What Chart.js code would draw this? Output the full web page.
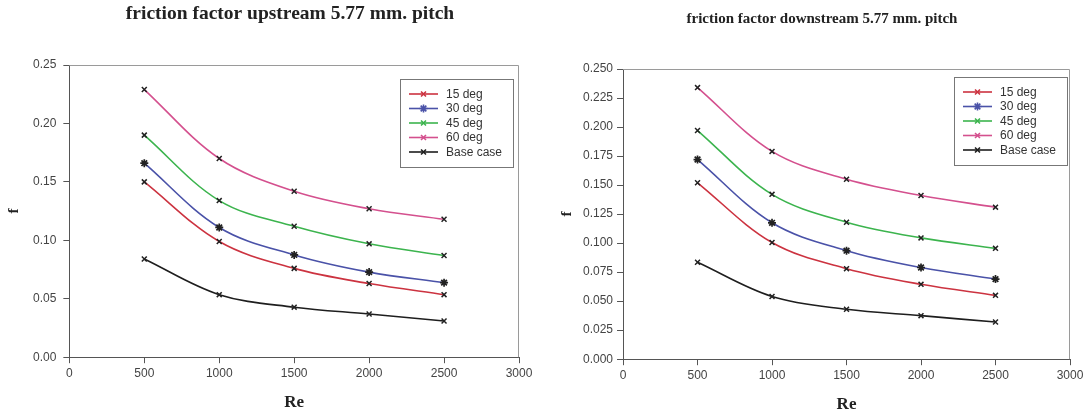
<!DOCTYPE html>
<html>
<head>
<meta charset="utf-8">
<title>friction factor 5.77 mm. pitch</title>
<script src="https://cdn.jsdelivr.net/npm/chart.js@4.4.1/dist/chart.umd.min.js"></script>
<style>
    body { margin: 0; background: #fff; }
    .panel { position: absolute; top: 0; width: 546px; height: 416px; }
    #izq { left: 0; }
    #der { left: 546px; }
</style>
</head>
<body>
<div class="panel" id="izq"><canvas id="chartUp" width="546" height="416"></canvas></div>
<div class="panel" id="der"><canvas id="chartDown" width="546" height="416"></canvas></div>
<script>
// Reynolds number
const re = [500, 1000, 1500, 2000, 2500];
const nombres = ['15 deg', '30 deg', '45 deg', '60 deg', 'Base case'];

// friction factor upstream
const up15 = [0.150, 0.099, 0.076, 0.063, 0.0535];
const up30 = [0.166, 0.111, 0.0875, 0.0728, 0.0638];
const up45 = [0.190, 0.134, 0.112, 0.097, 0.087];
const up60 = [0.229, 0.170, 0.142, 0.127, 0.118];
const upBase = [0.084, 0.0535, 0.0428, 0.037, 0.031];

// friction factor downstream
const down15 = [0.152, 0.1005, 0.078, 0.0645, 0.055];
const down30 = [0.172, 0.1175, 0.0935, 0.079, 0.069];
const down45 = [0.197, 0.142, 0.118, 0.1045, 0.0955];
const down60 = [0.234, 0.179, 0.155, 0.141, 0.131];
const downBase = [0.0835, 0.054, 0.043, 0.0375, 0.032];

const colores = ['#cc3340', '#4a52a8', '#3cb44e', '#d4508e', '#1e1e1e'];
const marcas = ['crossRot', 'star', 'crossRot', 'crossRot', 'crossRot'];

function series(valores) {
    return valores.map((v, i) => ({
        label: nombres[i],
        data: re.map((x, j) => ({ x: x, y: v[j] })),
        borderColor: colores[i],
        backgroundColor: colores[i],
        borderWidth: 1.6,
        pointStyle: marcas[i],
        pointRadius: i === 1 ? 4 : 3.5,
        pointBorderWidth: i === 1 ? 1.7 : 1.5,
        pointBorderColor: '#222',
        tension: 0.35
    }));
}

// caja alrededor del area del grafico
const marco = {
    id: 'marco',
    beforeDatasetsDraw(chart) {
        const a = chart.chartArea;
        const ctx = chart.ctx;
        ctx.save();
        ctx.strokeStyle = '#9a9a9a';
        ctx.lineWidth = 1;
        ctx.beginPath();
        ctx.moveTo(a.left, a.top + 0.5);
        ctx.lineTo(a.right - 0.5, a.top + 0.5);
        ctx.lineTo(a.right - 0.5, a.bottom);
        ctx.stroke();
        ctx.restore();
    }
};

// titulo del grafico, centrado en x
const rotulo = {
    id: 'rotulo',
    afterDraw(chart, args, opts) {
        const ctx = chart.ctx;
        ctx.save();
        ctx.font = 'bold ' + opts.size + 'px "Liberation Serif", "Times New Roman", serif';
        ctx.fillStyle = '#222';
        ctx.textAlign = 'center';
        ctx.textBaseline = 'middle';
        ctx.fillText(opts.text, opts.x, opts.y);
        ctx.restore();
    }
};

// leyenda dentro del grafico
const leyenda = {
    id: 'leyenda',
    afterDraw(chart, args, opts) {
        const a = chart.chartArea;
        const ctx = chart.ctx;
        const w = 113, fila = 14.5;
        const h = fila * 4 + 30;
        const x0 = a.right - opts.derecha - w;
        const y0 = a.top + opts.arriba;
        ctx.save();
        ctx.fillStyle = '#fff';
        ctx.fillRect(x0, y0, w, h);
        ctx.strokeStyle = '#777';
        ctx.lineWidth = 1;
        ctx.strokeRect(x0 + 0.5, y0 + 0.5, w, h);
        ctx.font = '12px "Liberation Sans", Arial, sans-serif';
        ctx.textBaseline = 'middle';
        chart.data.datasets.forEach((ds, i) => {
            const y = y0 + 15 + i * fila;
            ctx.strokeStyle = ds.borderColor;
            ctx.lineWidth = 1.6;
            ctx.beginPath();
            ctx.moveTo(x0 + 9, y);
            ctx.lineTo(x0 + 38, y);
            ctx.stroke();
            Chart.helpers.drawPoint(ctx, {
                pointStyle: ds.pointStyle,
                radius: ds.pointRadius,
                borderWidth: ds.pointBorderWidth
            }, x0 + 23.5, y);
            ctx.fillStyle = '#333';
            ctx.fillText(ds.label, x0 + 46, y + 0.5);
        });
        ctx.restore();
    }
};

function crearGrafico(id, valores, paso, decimales, ajuste) {
    const ctx = document.getElementById(id).getContext('2d');
    const ejeColor = '#555';
    const fuenteTicks = { family: '"Liberation Sans", Arial, sans-serif', size: 12 };
    const fuenteSerif = { family: '"Liberation Serif", "Times New Roman", serif', weight: 'bold' };
    return new Chart(ctx, {
        type: 'line',
        data: { datasets: series(valores) },
        options: {
            responsive: false,
            animation: false,
            layout: { padding: ajuste.padding },
            plugins: {
                legend: { display: false },
                tooltip: { enabled: false },
                rotulo: ajuste.titulo,
                leyenda: ajuste.leyenda
            },
            scales: {
                x: {
                    type: 'linear',
                    min: 0,
                    max: 3000,
                    ticks: {
                        stepSize: 500,
                        color: '#444',
                        font: fuenteTicks,
                        padding: 3,
                        maxRotation: 0,
                        callback: v => String(v)
                    },
                    grid: { drawOnChartArea: false, drawTicks: true, tickLength: 6, color: ejeColor },
                    border: { color: ejeColor, width: 1 },
                    title: {
                        display: true,
                        text: 'Re',
                        color: '#222',
                        font: Object.assign({ size: 17 }, fuenteSerif),
                        padding: { top: 9, bottom: 0 }
                    }
                },
                y: {
                    min: 0,
                    max: 0.25,
                    ticks: {
                        stepSize: paso,
                        color: '#444',
                        font: fuenteTicks,
                        padding: ajuste.tickPad,
                        callback: v => Number(v).toFixed(decimales)
                    },
                    grid: { drawOnChartArea: false, drawTicks: true, tickLength: 6, color: ejeColor },
                    border: { color: ejeColor, width: 1 },
                    title: {
                        display: true,
                        text: 'f',
                        color: '#222',
                        font: Object.assign({ size: 15 }, fuenteSerif),
                        padding: ajuste.yTitulo
                    }
                }
            }
        },
        plugins: [marco, leyenda, rotulo]
    });
}

crearGrafico('chartUp', [up15, up30, up45, up60, upBase], 0.05, 2, {
    padding: { left: 0, right: 27, bottom: 3, top: 65 },
    titulo: { text: 'friction factor upstream 5.77 mm. pitch', size: 19.5, x: 290, y: 14 },
    tickPad: 7,
    yTitulo: { top: 5, bottom: 3 },
    leyenda: { derecha: 6, arriba: 14 }
});

crearGrafico('chartDown', [down15, down30, down45, down60, downBase], 0.025, 3, {
    padding: { left: 0, right: 22, bottom: 1, top: 69 },
    titulo: { text: 'friction factor downstream 5.77 mm. pitch', size: 15, x: 276, y: 19 },
    tickPad: 4,
    yTitulo: { top: 12, bottom: 3 },
    leyenda: { derecha: 3, arriba: 8 }
});
</script>
</body>
</html>
